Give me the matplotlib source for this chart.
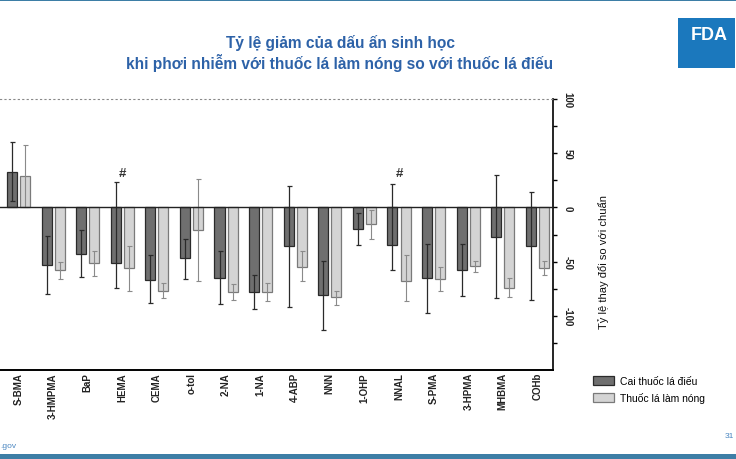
import matplotlib
matplotlib.use("Agg")
import matplotlib.pyplot as plt
import numpy as np
from matplotlib.patches import Patch, Rectangle

plt.rcParams['font.family'] = ['Liberation Sans', 'DejaVu Sans']

# du lieu doc tu hinh
categories = ["S-BMA", "3-HMPMA", "BaP", "HEMA", "CEMA", "o-tol", "2-NA", "1-NA",
              "4-ABP", "NNN", "1-OHP", "NNAL", "S-PMA", "3-HPMA", "MHBMA", "COHb"]
quit_mean = [33, -53, -43, -51, -67, -47, -65, -78, -36, -81, -20, -35, -65, -58, -27, -36]
quit_lo = [6, -80, -64, -74, -88, -66, -89, -94, -92, -113, -35, -58, -97, -82, -84, -85]
quit_hi = [60, -26, -21, 23, -44, -29, -40, -62, 20, -49, -5, 22, -34, -34, 30, 14]
heat_mean = [29, -58, -51, -56, -77, -21, -78, -78, -55, -83, -15, -68, -66, -54, -74, -56]
heat_lo = [0, -66, -63, -77, -84, -68, -85, -86, -68, -90, -29, -86, -77, -60, -83, -62]
heat_hi = [58, -50, -40, -36, -70, 26, -71, -70, -40, -77, -2, -44, -55, -49, -65, -49]
hash_marks = ["HEMA", "NNAL"]
legend_labels = ["Cai thuốc lá điếu", "Thuốc lá làm nóng"]

title_color = "#2d62a8"
dark = "#6f6f6f"
light = "#d4d4d4"

fig = plt.figure(figsize=(7.36, 4.60), dpi=100)

# khung slide
fig.add_artist(Rectangle((0, 0.995), 1, 0.005, transform=fig.transFigure, color="#3d7ea6", lw=0))
fig.add_artist(Rectangle((0, 0), 1, 0.011, transform=fig.transFigure, color="#3d7ea6", lw=0))
fig.add_artist(Rectangle((678 / 736, 1 - 69 / 460), 57 / 736, 50 / 460,
                         transform=fig.transFigure, color="#1b78bd", lw=0))
fig.text(709 / 736, 1 - 36 / 460, "FDA", color="white", fontsize=13, fontweight="bold",
         ha="center", va="center")
fig.text(340 / 736, 1 - 43 / 460, "Tỷ lệ giảm của dấu ấn sinh học", color=title_color,
         fontsize=11.2, fontweight="bold", ha="center", va="center")
fig.text(340 / 736, 1 - 63 / 460, "khi phơi nhiễm với thuốc lá làm nóng so với thuốc lá điếu",
         color=title_color, fontsize=11.2, fontweight="bold", ha="center", va="center")
fig.text(0, 1 - 447 / 460, ".gov", color="#4a86c0", fontsize=6, ha="left", va="center")
fig.text(734 / 736, 1 - 437 / 460, "31", color="#4a86c0", fontsize=6, ha="right", va="center")

ax = fig.add_axes([0, 89 / 460, 553 / 736, 271 / 460])
x = np.arange(len(categories))
off = 0.19
w = 0.29

quit_mean = np.array(quit_mean)
heat_mean = np.array(heat_mean)
q_err = [quit_mean - np.array(quit_lo), np.array(quit_hi) - quit_mean]
h_err = [heat_mean - np.array(heat_lo), np.array(heat_hi) - heat_mean]

ax.bar(x - off, quit_mean, w, color=dark, edgecolor="#2a2a2a", linewidth=0.9, zorder=2)
ax.bar(x + off, heat_mean, w, color=light, edgecolor="#7a7a7a", linewidth=0.9, zorder=2)
ax.errorbar(x - off, quit_mean, yerr=q_err, fmt="none", ecolor="#2a2a2a", elinewidth=0.9,
            capsize=1.8, capthick=0.9, zorder=3)
ax.errorbar(x + off, heat_mean, yerr=h_err, fmt="none", ecolor="#8a8a8a", elinewidth=0.8,
            capsize=1.8, capthick=0.8, zorder=3)
ax.axhline(0, color="#222222", lw=1.0, zorder=4)

for name in hash_marks:
    i = categories.index(name)
    ax.text(i, 32, "#", ha="center", va="center", fontsize=9.5, fontweight="bold", color="#333333")

ax.set_xlim(-0.535, 15.45)
ax.set_ylim(-150, 100)

ax.spines["left"].set_visible(False)
ax.spines["top"].set_linestyle((0, (1, 3)))
ax.spines["top"].set_color("#888888")
ax.spines["top"].set_linewidth(0.8)
ax.spines["right"].set_linewidth(1.2)
ax.spines["bottom"].set_linewidth(1.4)

ax.set_xticks(x)
ax.set_xticklabels(categories, rotation=90, fontsize=7, fontweight="bold", color="#222222")
ax.tick_params(axis="x", length=0, pad=1.5)

ax.yaxis.tick_right()
ax.yaxis.set_label_position("right")
ax.set_yticks([-100, -50, 0, 50, 100])
ax.set_yticks([-125, -75, -25, 25, 75], minor=True)
ax.set_yticklabels(["-100", "-50", "0", "50", "100"], rotation=-90, fontsize=7,
                   fontweight="bold", va="center", color="#222222")
ax.tick_params(axis="y", which="both", direction="out", length=3, width=1, pad=4)
ax.set_ylabel("Tỷ lệ thay đổi so với chuẩn", fontsize=8, rotation=90, color="#111111")
ax.yaxis.set_label_coords(1.081, 0.402)

handles = [Patch(facecolor=dark, edgecolor="#2a2a2a", lw=0.9),
           Patch(facecolor=light, edgecolor="#7a7a7a", lw=0.9)]
fig.legend(handles, legend_labels, loc="upper left", bbox_to_anchor=(584 / 736, 1 - 368 / 460),
           frameon=False, fontsize=7.5, handlelength=2.0, handleheight=0.9,
           labelspacing=0.55, handletextpad=0.6)

fig.savefig("out.png", dpi=100)
